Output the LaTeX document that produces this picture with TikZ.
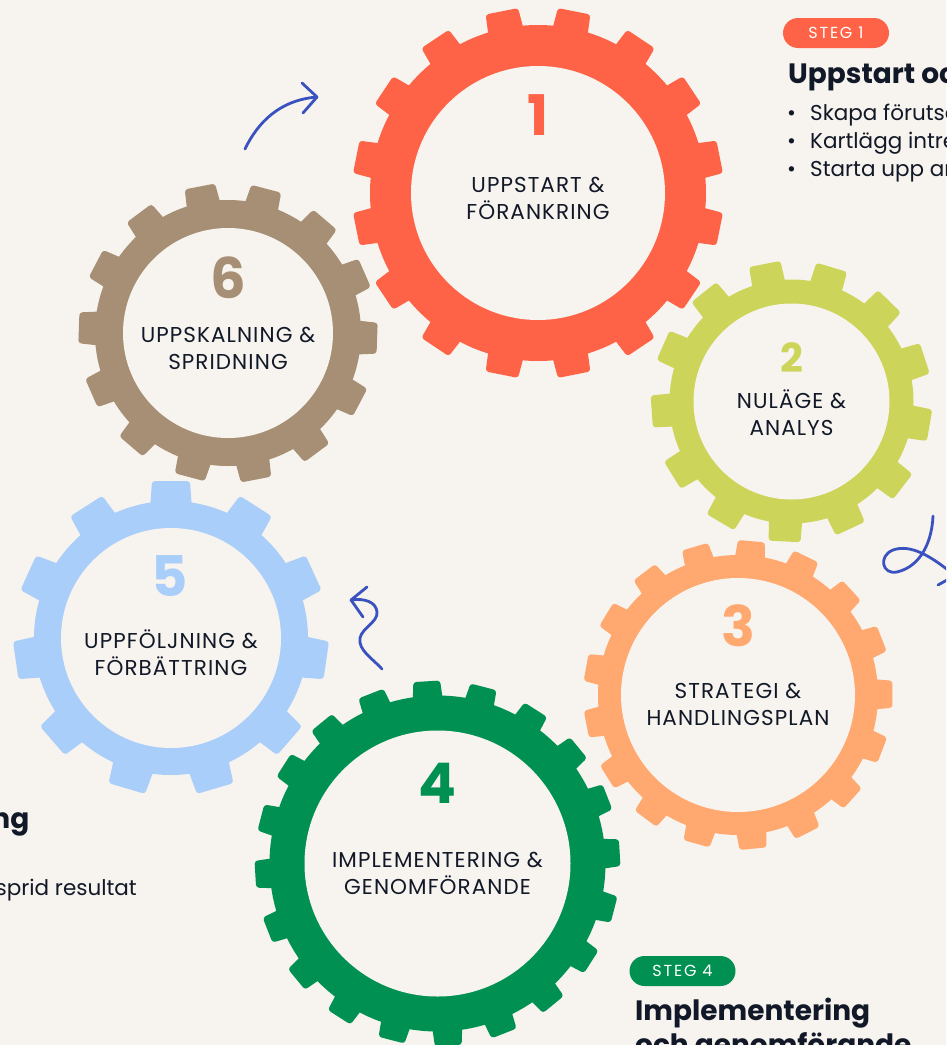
\documentclass[tikz,border=0pt]{standalone}
\usepackage{fontspec}
\setmainfont{Poppins}
\newfontfamily\pillfont{Poppins}[LetterSpace=11]
\newfontfamily\labelfont{Poppins}[LetterSpace=5]
\definecolor{bg}{HTML}{F7F3EE}
\definecolor{gRed}{HTML}{FF6347}
\definecolor{gLime}{HTML}{CDD45A}
\definecolor{gOrange}{HTML}{FFA870}
\definecolor{gGreen}{HTML}{009152}
\definecolor{gBlue}{HTML}{A9CEFA}
\definecolor{gTan}{HTML}{A68F74}
\definecolor{ink}{HTML}{111827}
\definecolor{scrib}{HTML}{3A52C0}

% cx cy n phase Rroot Rtip tipHalfDeg baseHalfDeg colour
\newcommand{\mygear}[9]{%
  \fill[#9] (#1,#2) circle[radius=#5];
  \pgfmathsetmacro{\gStep}{360/#3}
  \foreach \gk in {1,...,#3}{%
    \pgfmathsetmacro{\gA}{#4+\gk*\gStep}
    \fill[#9,rounded corners=3pt]
      ({#1+(#5-6)*sin(\gA-#8)},{#2-(#5-6)*cos(\gA-#8)}) --
      ({#1+#6*sin(\gA-#7)},{#2-#6*cos(\gA-#7)}) --
      ({#1+#6*sin(\gA+#7)},{#2-#6*cos(\gA+#7)}) --
      ({#1+(#5-6)*sin(\gA+#8)},{#2-(#5-6)*cos(\gA+#8)}) -- cycle;
  }%
}

\begin{document}
\begin{tikzpicture}[x=1pt,y=-1pt,
  lbl/.style={align=center,inner sep=0pt,text=ink,font=\labelfont\fontsize{21.5}{27}\selectfont},
  num/.style={inner sep=0pt,font=\bfseries\fontsize{56}{56}\selectfont},
  pill/.style={rounded corners=15pt,minimum width=106pt,minimum height=30pt,inner sep=0pt,text=white,font=\pillfont\fontsize{16}{16}\selectfont},
  head/.style={inner sep=0pt,text=ink,font=\bfseries\fontsize{28}{28}\selectfont},
  body/.style={inner sep=0pt,text=ink,font=\fontsize{21.5}{21.5}\selectfont},
  scrib/.style={draw=scrib,line width=2.8pt,line cap=round,line join=round}]
\useasboundingbox (0,0) rectangle (946,1045);
\fill[bg] (0,0) rectangle (946,1045);
\begin{scope}
\clip (0,0) rectangle (946,1045);

% gears
\mygear{228}{333}{14}{14.86}{133}{150}{5.9}{7.8}{gTan}
\fill[bg] (228,333) circle[radius=105];
\mygear{171}{638}{11}{0}{137}{158}{6.9}{9.2}{gBlue}
\fill[bg] (171,638) circle[radius=110];
\mygear{538}{193}{16}{11.25}{168}{186}{5.1}{6.4}{gRed}
\fill[bg] (538,193) circle[radius=127];
\mygear{791.5}{401.5}{13}{-11}{122}{141}{6.5}{8.3}{gLime}
\fill[bg] (791.5,401.5) circle[radius=98];
\mygear{738}{695}{17}{5}{140}{155}{5.0}{6.6}{gOrange}
\fill[bg] (738,695) circle[radius=117];
\mygear{437.5}{863.5}{20}{-3.4}{168}{183}{4.2}{5.4}{gGreen}
\fill[bg] (437.5,863.5) circle[radius=133];

% numbers
\node[num,text=gRed] (n1) at (538,115) {1};
\node[num,text=gLime,font=\bfseries\fontsize{40}{40}\selectfont] (n2) at (791.5,357.5) {2};
\node[num,text=gOrange] (n3) at (738,625.7) {3};
\node[num,text=gGreen] (n4) at (437.7,783) {4};
\node[num,text=gBlue] (n5) at (170,576) {5};
\node[num,text=gTan] (n6) at (228,278) {6};

% labels
\node[lbl] (l1) at (538,198) {UPPSTART \&\\FÖRANKRING};
\node[lbl] (l2) at (791.5,412.5) {NULÄGE \&\\ANALYS};
\node[lbl] (l3) at (738,704) {STRATEGI \&\\HANDLINGSPLAN};
\node[lbl] (l4) at (437.5,873) {IMPLEMENTERING \&\\GENOMFÖRANDE};
\node[lbl] (l5) at (171,652.5) {UPPFÖLJNING \&\\FÖRBÄTTRING};
\node[lbl] (l6) at (228,348) {UPPSKALNING \&\\SPRIDNING};

% step 1 text
\node[pill,fill=gRed] (s1) at (836,33) {STEG 1};
\node[head,anchor=base west] (h1) at (788,83) {Uppstart och förankring};
\node[body,anchor=base west] (b1) at (787,120) {\makebox[23pt][l]{•}Skapa förutsättningar};
\node[body,anchor=base west] (b2) at (787,148.3) {\makebox[23pt][l]{•}Kartlägg intressenter};
\node[body,anchor=base west] (b3) at (787,176.7) {\makebox[23pt][l]{•}Starta upp arbetet};

% left partial text
\node[head,anchor=base east] (h5) at (29.5,828) {ng};
\node[body,anchor=base east] (b5) at (137,895) {sprid resultat};

% step 4 text
\node[pill,fill=gGreen] (s4) at (682.5,971) {STEG 4};
\node[head,anchor=base west] (h4) at (635,1020) {Implementering};
\node[head,anchor=base west] (h4b) at (635,1054) {och genomförande};

% scribbled arrows
\coordinate (a1s) at (245,149);
\coordinate (a1e) at (317,97);
\draw[scrib] (a1s) .. controls (258,122) and (280,100) .. (a1e);
\draw[scrib] (302,83) -- (a1e) -- (303,113);

\coordinate (a2s) at (382,669);
\coordinate (a2e) at (351,600);
\draw[scrib] (a2s) .. controls (372,658) and (358,650) .. (360,638)
  .. controls (362,628) and (378,622) .. (377,612)
  .. controls (376,602) and (365,598) .. (a2e);
\draw[scrib] (367,587) -- (a2e) -- (363,617);

\coordinate (a3s) at (933,516);
\draw[scrib] (a3s) .. controls (932,540) and (922,566) .. (897,572)
  .. controls (882,575) and (878,556) .. (893,550)
  .. controls (910,544) and (930,555) .. (954,575);
\draw[scrib] (938,585) -- (956,575);
\end{scope}
\end{tikzpicture}
\end{document}
